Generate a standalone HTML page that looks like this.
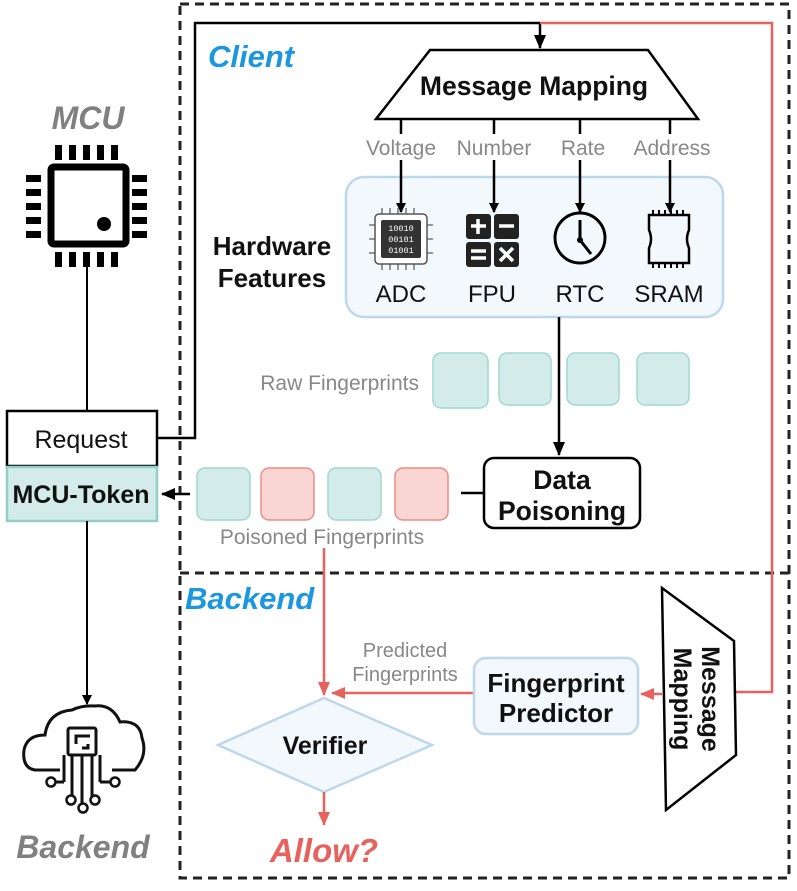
<!DOCTYPE html>
<html><head><meta charset="utf-8"><style>
html,body{margin:0;padding:0;background:#fff;}
svg{display:block;font-family:"Liberation Sans",Arial,sans-serif;}
</style></head><body>
<svg width="797" height="891" viewBox="0 0 797 891" xmlns="http://www.w3.org/2000/svg">
<defs>
<marker id="ab" markerWidth="10" markerHeight="10" refX="9" refY="5" orient="auto" markerUnits="userSpaceOnUse"><path d="M0,0 L10,5 L0,10 z" fill="#000"/></marker>
<marker id="ar" markerWidth="14" markerHeight="12" refX="13" refY="6" orient="auto" markerUnits="userSpaceOnUse"><path d="M0,0 L14,6 L0,12 z" fill="#e8625d"/></marker>
<marker id="ab2" markerWidth="14" markerHeight="12" refX="13" refY="6" orient="auto" markerUnits="userSpaceOnUse"><path d="M0,0 L14,6 L0,12 z" fill="#000"/></marker>
</defs>

<rect x="180" y="4" width="609" height="874" fill="none" stroke="#222" stroke-width="3" stroke-dasharray="9,6"/>
<line x1="180" y1="573" x2="789" y2="573" stroke="#222" stroke-width="3" stroke-dasharray="9,6"/>

<text x="208" y="67" font-size="31" font-weight="bold" font-style="italic" fill="#1a97e0">Client</text>
<text x="185" y="609" font-size="31" font-weight="bold" font-style="italic" fill="#1a97e0">Backend</text>

<polyline points="157,438 195,438 195,23 540,23 540,48" fill="none" stroke="#000" stroke-width="2.5" marker-end="url(#ab2)"/>
<polyline points="540,23 772,23 772,692 736,692" fill="none" stroke="#e8625d" stroke-width="2.5"/>

<polygon points="430,50 648,50 698,119 376,119" fill="#fff" stroke="#000" stroke-width="2.5"/>
<text x="534" y="95" font-size="26.5" font-weight="bold" text-anchor="middle" fill="#111">Message Mapping</text>

<g stroke="#000" stroke-width="2.5">
<line x1="401" y1="119" x2="401" y2="134"/><line x1="494" y1="119" x2="494" y2="134"/><line x1="580" y1="119" x2="580" y2="134"/><line x1="670" y1="119" x2="670" y2="134"/>
</g>
<g font-size="21" fill="#888" text-anchor="middle">
<text x="401" y="155">Voltage</text><text x="494" y="155">Number</text><text x="583" y="155">Rate</text><text x="672" y="155">Address</text>
</g>

<rect x="346" y="177" width="377" height="140" rx="18" fill="#f3f8fd" stroke="#bcd8ec" stroke-width="2.5"/>
<g stroke="#000" stroke-width="2.5">
<line x1="401" y1="160" x2="401" y2="212" marker-end="url(#ab)"/>
<line x1="494" y1="160" x2="494" y2="212" marker-end="url(#ab)"/>
<line x1="580" y1="160" x2="580" y2="212" marker-end="url(#ab)"/>
<line x1="670" y1="160" x2="670" y2="212" marker-end="url(#ab)"/>
</g>
<text x="272" y="255" font-size="26" font-weight="bold" text-anchor="middle" fill="#111">Hardware</text>
<text x="272" y="287" font-size="26" font-weight="bold" text-anchor="middle" fill="#111">Features</text>

<g>
<rect x="375" y="214" width="52" height="50" rx="4" fill="#fff" stroke="#555" stroke-width="1.5"/>
<rect x="381" y="220" width="40" height="38" rx="2" fill="#333"/>
<g stroke="#555" stroke-width="1.2">
<line x1="382" y1="208" x2="382" y2="214"/><line x1="390" y1="208" x2="390" y2="214"/><line x1="398" y1="208" x2="398" y2="214"/><line x1="406" y1="208" x2="406" y2="214"/><line x1="414" y1="208" x2="414" y2="214"/>
<line x1="382" y1="264" x2="382" y2="270"/><line x1="390" y1="264" x2="390" y2="270"/><line x1="398" y1="264" x2="398" y2="270"/><line x1="406" y1="264" x2="406" y2="270"/><line x1="414" y1="264" x2="414" y2="270"/>
<line x1="369" y1="225" x2="375" y2="225"/><line x1="369" y1="239" x2="375" y2="239"/><line x1="369" y1="253" x2="375" y2="253"/>
<line x1="427" y1="225" x2="433" y2="225"/><line x1="427" y1="239" x2="433" y2="239"/><line x1="427" y1="253" x2="433" y2="253"/>
</g>
<g font-family="Liberation Mono,monospace" font-size="8.5" fill="#fff" text-anchor="middle">
<text x="401" y="231">10010</text><text x="401" y="242">00101</text><text x="401" y="253">01001</text>
</g>
</g>
<g>
<rect x="466" y="214" width="25" height="25" rx="3" fill="#222"/>
<rect x="494" y="214" width="25" height="25" rx="3" fill="#222"/>
<rect x="466" y="242" width="25" height="25" rx="3" fill="#222"/>
<rect x="494" y="242" width="25" height="25" rx="3" fill="#222"/>
<g stroke="#fff" stroke-width="3.5">
<line x1="471" y1="226" x2="486" y2="226"/><line x1="478" y1="219" x2="478" y2="234"/>
<line x1="499" y1="226" x2="514" y2="226"/>
<line x1="471" y1="251" x2="486" y2="251"/><line x1="471" y1="258" x2="486" y2="258"/>
<line x1="500" y1="248" x2="513" y2="261"/><line x1="513" y1="248" x2="500" y2="261"/>
</g>
</g>
<g fill="none" stroke="#000" stroke-width="3">
<circle cx="580" cy="238" r="25"/>
<polyline points="580,220 580,240 591,254"/>
</g>
<circle cx="580" cy="240" r="3" fill="#000"/>
<g fill="none" stroke="#000" stroke-width="2.5">
<path d="M649,215 L689,215 L689,230 Q685,239 689,248 L689,263 L649,263 L649,248 Q653,239 649,230 Z"/>
</g>
<g stroke="#000" stroke-width="2">
<line x1="653" y1="210" x2="653" y2="215"/><line x1="659" y1="210" x2="659" y2="215"/><line x1="665" y1="210" x2="665" y2="215"/><line x1="671" y1="210" x2="671" y2="215"/><line x1="677" y1="210" x2="677" y2="215"/><line x1="683" y1="210" x2="683" y2="215"/>
<line x1="653" y1="263" x2="653" y2="268"/><line x1="659" y1="263" x2="659" y2="268"/><line x1="665" y1="263" x2="665" y2="268"/><line x1="671" y1="263" x2="671" y2="268"/><line x1="677" y1="263" x2="677" y2="268"/><line x1="683" y1="263" x2="683" y2="268"/>
</g>
<g font-size="24" fill="#111" text-anchor="middle">
<text x="401" y="302">ADC</text><text x="492" y="302">FPU</text><text x="580" y="302">RTC</text><text x="669" y="302">SRAM</text>
</g>

<line x1="559" y1="317" x2="559" y2="455" stroke="#000" stroke-width="2.5" marker-end="url(#ab2)"/>
<g fill="#d3ecea" stroke="#9fd8cf" stroke-width="1.5">
<rect x="433" y="353" width="55" height="55" rx="8"/>
<rect x="499" y="353" width="52" height="52" rx="8"/>
<rect x="567" y="353" width="52" height="52" rx="8"/>
<rect x="637" y="353" width="52" height="52" rx="8"/>
</g>
<text x="419" y="390" font-size="21" fill="#888" text-anchor="end">Raw Fingerprints</text>

<rect x="484" y="458" width="156" height="70" rx="10" fill="#fff" stroke="#000" stroke-width="2.5"/>
<text x="562" y="489" font-size="26.5" font-weight="bold" text-anchor="middle" fill="#111">Data</text>
<text x="562" y="520" font-size="26.5" font-weight="bold" text-anchor="middle" fill="#111">Poisoning</text>
<line x1="461" y1="493" x2="484" y2="493" stroke="#000" stroke-width="2.5"/>
<g stroke-width="1.5">
<rect x="197" y="468" width="53" height="52" rx="8" fill="#d3ecea" stroke="#9fd8cf"/>
<rect x="261" y="468" width="53" height="52" rx="8" fill="#f9d6d3" stroke="#ef8a84"/>
<rect x="328" y="468" width="53" height="52" rx="8" fill="#d3ecea" stroke="#9fd8cf"/>
<rect x="395" y="468" width="53" height="52" rx="8" fill="#f9d6d3" stroke="#ef8a84"/>
</g>
<text x="322" y="544" font-size="21" fill="#888" text-anchor="middle">Poisoned Fingerprints</text>
<line x1="190" y1="494" x2="162" y2="494" stroke="#000" stroke-width="2.5" marker-end="url(#ab2)"/>

<text x="88" y="129" font-size="32" font-weight="bold" font-style="italic" fill="#808080" text-anchor="middle">MCU</text>
<rect x="51" y="167" width="75" height="77" rx="3" fill="#fff" stroke="#000" stroke-width="7"/>
<circle cx="104" cy="224" r="7" fill="#000"/>
<g fill="#000">
<rect x="55" y="145" width="7" height="15"/><rect x="69" y="145" width="7" height="15"/><rect x="83" y="145" width="7" height="15"/><rect x="97" y="145" width="7" height="15"/><rect x="111" y="145" width="7" height="15"/>
<rect x="55" y="252" width="7" height="15"/><rect x="69" y="252" width="7" height="15"/><rect x="83" y="252" width="7" height="15"/><rect x="97" y="252" width="7" height="15"/><rect x="111" y="252" width="7" height="15"/>
<rect x="26" y="175" width="15" height="7"/><rect x="26" y="189" width="15" height="7"/><rect x="26" y="203" width="15" height="7"/><rect x="26" y="217" width="15" height="7"/><rect x="26" y="231" width="15" height="7"/>
<rect x="132" y="175" width="15" height="7"/><rect x="132" y="189" width="15" height="7"/><rect x="132" y="203" width="15" height="7"/><rect x="132" y="217" width="15" height="7"/><rect x="132" y="231" width="15" height="7"/>
</g>
<line x1="87" y1="267" x2="87" y2="411" stroke="#000" stroke-width="2"/>
<rect x="7" y="411" width="150" height="55" fill="#fff" stroke="#000" stroke-width="2.5"/>
<text x="81" y="448" font-size="25" fill="#111" text-anchor="middle">Request</text>
<rect x="7" y="467" width="150" height="54" fill="#d3ecea" stroke="#8fcfc5" stroke-width="2.5"/>
<text x="81" y="503" font-size="25" font-weight="bold" fill="#111" text-anchor="middle">MCU-Token</text>
<line x1="87" y1="521" x2="87" y2="704" stroke="#000" stroke-width="2" marker-end="url(#ab)"/>

<g fill="none" stroke="#111" stroke-width="3">
<path d="M60,770 L35,770 Q22,768 24,750 Q27,735 45,735 Q48,712 72,710 Q82,705 95,706 Q112,704 120,722 Q140,720 142,738 Q148,755 135,770 L112,770"/>
<rect x="68" y="728" width="28" height="27" rx="2"/>
<polyline points="76,744 76,736 90,736"/>
<polyline points="82,748 88,748 88,744" />
<line x1="72" y1="755" x2="72" y2="798"/><line x1="82" y1="755" x2="82" y2="805"/><line x1="92" y1="755" x2="92" y2="798"/><line x1="100" y1="755" x2="100" y2="782"/><line x1="64" y1="755" x2="64" y2="782"/>
<line x1="56" y1="782" x2="64" y2="782"/><line x1="100" y1="782" x2="110" y2="782"/>
</g>
<g fill="#fff" stroke="#111" stroke-width="2.5">
<circle cx="51" cy="782" r="4.5"/><circle cx="115" cy="782" r="4.5"/><circle cx="71" cy="800" r="4.5"/><circle cx="95" cy="800" r="4.5"/><circle cx="83" cy="808" r="4.5"/>
</g>
<text x="83" y="858" font-size="32" font-weight="bold" font-style="italic" fill="#808080" text-anchor="middle">Backend</text>

<line x1="324" y1="548" x2="324" y2="695" stroke="#e8625d" stroke-width="2.5" marker-end="url(#ar)"/>
<line x1="474" y1="693" x2="332" y2="693" stroke="#e8625d" stroke-width="2.5" marker-end="url(#ar)"/>
<text x="405" y="657" font-size="20" fill="#888" text-anchor="middle">Predicted</text>
<text x="405" y="681" font-size="20" fill="#888" text-anchor="middle">Fingerprints</text>
<polygon points="324,698 432,745 324,792 218,745" fill="#f3f8fd" stroke="#bcd8ec" stroke-width="2.5"/>
<text x="325" y="754" font-size="25" font-weight="bold" fill="#111" text-anchor="middle">Verifier</text>
<line x1="324" y1="792" x2="324" y2="825" stroke="#e8625d" stroke-width="2.5" marker-end="url(#ar)"/>
<text x="324" y="862" font-size="33" font-weight="bold" font-style="italic" fill="#e8625d" text-anchor="middle">Allow?</text>

<rect x="474" y="658" width="164" height="76" rx="12" fill="#f3f8fd" stroke="#bcd8ec" stroke-width="2.5"/>
<text x="556" y="692" font-size="26" font-weight="bold" fill="#111" text-anchor="middle">Fingerprint</text>
<text x="556" y="722" font-size="26" font-weight="bold" fill="#111" text-anchor="middle">Predictor</text>
<line x1="662" y1="694" x2="641" y2="694" stroke="#e8625d" stroke-width="2.5" marker-end="url(#ar)"/>

<polygon points="662,588 734,641 736,755 666,810" fill="#fff" stroke="#000" stroke-width="2.5"/>
<g font-size="25" font-weight="bold" fill="#111" text-anchor="middle">
<text transform="translate(702,699) rotate(90)">Message</text>
<text transform="translate(674,699) rotate(90)">Mapping</text>
</g>
</svg>
</body></html>
